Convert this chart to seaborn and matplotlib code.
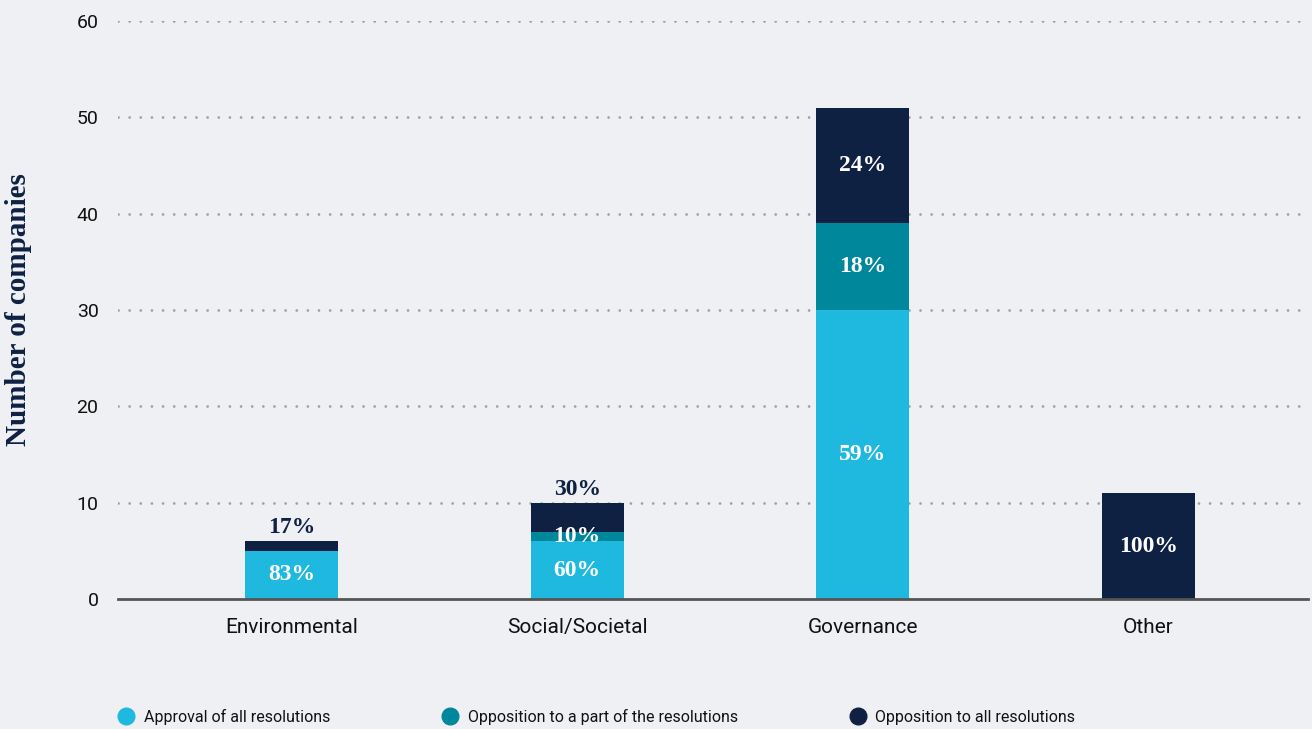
import numpy as np
import pandas as pd
import matplotlib
matplotlib.use("Agg")
import matplotlib.pyplot as plt
from matplotlib.lines import Line2D
import seaborn as sns

categories = ["Environmental", "Social/Societal", "Governance", "Other"]
approval = [5, 6, 30, 0]
partial = [0, 1, 9, 0]
opposition = [1, 3, 12, 11]
pct_approval = ["83%", "60%", "59%", ""]
pct_partial = ["", "10%", "18%", ""]
pct_opposition = ["17%", "30%", "24%", "100%"]
series_names = ["Approval of all resolutions", "Opposition to a part of the resolutions",
                "Opposition to all resolutions"]
yticks = [0, 10, 20, 30, 40, 50, 60]

BG = "#eff0f3"
C_APP = "#1fb9df"
C_PART = "#00879c"
C_ALL = "#0e2142"

sns.set_theme(style="white")
plt.rcParams["font.family"] = ["Roboto", "DejaVu Sans"]

fig = plt.figure(figsize=(13.12, 7.29), dpi=100, facecolor=BG)
ax = fig.add_axes([118/1312, 1 - 599/729, (1308-118)/1312, (599-21)/729])
ax.set_facecolor(BG)

df = pd.DataFrame({"category": categories, "approval": approval,
                   "partial": partial, "opposition": opposition})
df["c2"] = df["approval"] + df["partial"]
df["c3"] = df["c2"] + df["opposition"]

w = 0.325
for col, c in [("c3", C_ALL), ("c2", C_PART), ("approval", C_APP)]:
    sns.barplot(data=df, x="category", y=col, color=c, width=w, saturation=1, ax=ax,
                order=categories, linewidth=0, edgecolor="none", zorder=2)

ax.set_ylim(0, 60)
ax.set_xlim(-0.607, 3.558)
ax.set_yticks(yticks)
ax.set_yticklabels([str(t) for t in yticks], fontsize=14, color="#111111")
ax.tick_params(axis="y", length=0, pad=14)
ax.tick_params(axis="x", length=0, pad=14, labelsize=15, labelcolor="#111111")
ax.set_xlabel("")
ax.set_ylabel("Number of companies", fontsize=21, fontweight="bold", color=C_ALL,
              family=["Liberation Serif", "DejaVu Serif"])
ax.yaxis.set_label_coords(-0.072, 0.5)
for t in yticks[1:]:
    ax.axhline(t, color="#a0a0a0", lw=2.0, ls=(0, (0.01, 4)), dash_capstyle="round", zorder=0)
for s in ["left", "right", "top"]:
    ax.spines[s].set_visible(False)
ax.spines["bottom"].set_color("#555555")
ax.spines["bottom"].set_linewidth(2)
ax.spines["bottom"].set_zorder(3)

serif = ["Liberation Serif", "DejaVu Serif"]
fs = 17
for i in range(len(categories)):
    a, p, o = approval[i], partial[i], opposition[i]
    if pct_approval[i]:
        ax.text(i, a / 2, pct_approval[i], ha="center", va="center", color="white",
                fontsize=fs, fontweight="bold", family=serif, zorder=4)
    if pct_partial[i]:
        ax.text(i, a + p / 2, pct_partial[i], ha="center", va="center", color="white",
                fontsize=fs, fontweight="bold", family=serif, zorder=4)
    if pct_opposition[i]:
        if o >= 4:
            ax.text(i, a + p + o / 2, pct_opposition[i], ha="center", va="center",
                    color="white", fontsize=fs, fontweight="bold", family=serif, zorder=4)
        else:
            ax.text(i, a + p + o + 0.3, pct_opposition[i], ha="center", va="bottom",
                    color=C_ALL, fontsize=fs, fontweight="bold", family=serif, zorder=4)

handles = [Line2D([], [], marker="o", ls="none", markersize=12, markerfacecolor=c,
                  markeredgecolor=c) for c in [C_APP, C_PART, C_ALL]]
fig.legend(handles, series_names, loc="center left", bbox_to_anchor=(104/1312, 1 - 717/729),
           ncol=3, frameon=False, fontsize=11.5, handletextpad=0.6, columnspacing=7.0,
           handlelength=1.0, labelcolor="#111111")

fig.savefig("out.png", dpi=100, facecolor=BG)
